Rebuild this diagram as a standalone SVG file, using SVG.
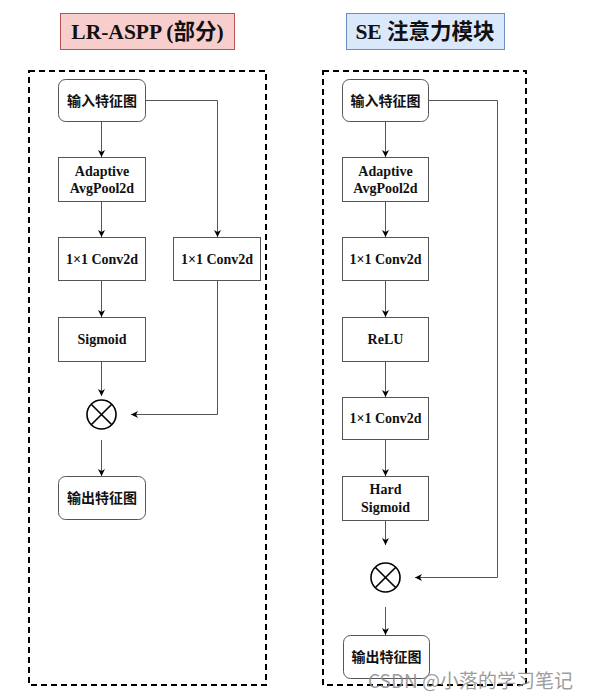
<svg xmlns="http://www.w3.org/2000/svg" width="595" height="699" viewBox="0 0 595 699">
<defs>
<marker id="ah" markerWidth="8" markerHeight="8" refX="7" refY="4" orient="auto" markerUnits="userSpaceOnUse">
<path d="M0,0.5 L7,4 L0,7.5 L2,4 Z" fill="#000"/>
</marker>
</defs>
<style>
.frame{fill:none;stroke:#000;stroke-width:2;stroke-dasharray:6 4}
.box{fill:#fff;stroke:#555;stroke-width:1}
.en{font-family:"Liberation Serif","Times New Roman",serif;font-weight:bold;font-size:14px;fill:#111;text-anchor:middle}
.zh{font-family:"Noto Sans CJK SC","Noto Sans",sans-serif;font-weight:bold;font-size:14px;fill:#111;text-anchor:middle}
.title{font-family:"Liberation Serif","Noto Sans CJK SC",serif;font-weight:bold;font-size:21.5px;fill:#111;text-anchor:middle}
.titlezh{font-family:"Noto Sans CJK SC",sans-serif;font-weight:bold}
.edge{fill:none;stroke:#555;stroke-width:1;marker-end:url(#ah)}
.op{fill:#fff;stroke:#000;stroke-width:1.6}
</style>
<rect width="595" height="699" fill="#fff"/>

<g id="title-left">
<rect x="60.5" y="13.5" width="174" height="36" fill="#f8cecc" stroke="#b85450" stroke-width="1"/>
<text class="title" x="147.5" y="39">LR-ASPP (<tspan class="titlezh">部分</tspan>)</text>
</g>
<g id="title-right">
<rect x="346.5" y="13.5" width="158" height="36" fill="#dae8fc" stroke="#6c8ebf" stroke-width="1"/>
<text class="title" x="425" y="39">SE <tspan class="titlezh">注意力模块</tspan></text>
</g>

<g id="frame-left"><rect class="frame" x="29" y="71" width="237" height="614"/></g>
<g id="frame-right"><rect class="frame" x="323" y="71" width="203" height="614"/></g>

<g id="connectors">
<path class="edge" d="M101.5,121 V157"/>
<path class="edge" d="M101.5,201 V237"/>
<path class="edge" d="M101.5,280 V317"/>
<path class="edge" d="M101.5,361 V396"/>
<path class="edge" d="M101.5,440 V476"/>
<path class="edge" d="M145,100.5 H217.5 V237"/>
<path class="edge" d="M217.5,280 V414.5 H131"/>
<path class="edge" d="M385.5,121 V157"/>
<path class="edge" d="M385.5,201 V237"/>
<path class="edge" d="M385.5,280 V317"/>
<path class="edge" d="M385.5,361 V397"/>
<path class="edge" d="M385.5,439 V476"/>
<path class="edge" d="M385.5,520 V545"/>
<path class="edge" d="M385.5,607 V635"/>
<path class="edge" d="M428,100.5 H497.5 V577.5 H415"/>
</g>

<g id="l-input"><rect class="box" x="58.5" y="79.5" width="87" height="42" rx="7"/><text class="zh" x="102" y="105.5">输入特征图</text></g>
<g id="l-pool"><rect class="box" x="58.5" y="157.5" width="87" height="44"/><text class="en" x="102" y="176">Adaptive</text><text class="en" x="102" y="193">AvgPool2d</text></g>
<g id="l-conv"><rect class="box" x="58.5" y="237.5" width="87" height="43"/><text class="en" x="102" y="264">1×1 Conv2d</text></g>
<g id="l-conv2"><rect class="box" x="173.5" y="237.5" width="87" height="43"/><text class="en" x="217" y="264">1×1 Conv2d</text></g>
<g id="l-sigmoid"><rect class="box" x="58.5" y="317.5" width="87" height="44"/><text class="en" x="102" y="344">Sigmoid</text></g>
<g id="l-mul"><circle class="op" cx="101.5" cy="414.5" r="14.5"/><path class="op" d="M91.2,404.2 L111.8,424.8 M111.8,404.2 L91.2,424.8"/></g>
<g id="l-output"><rect class="box" x="58.5" y="476.5" width="87" height="43" rx="7"/><text class="zh" x="102" y="502.5">输出特征图</text></g>

<g id="r-input"><rect class="box" x="342.5" y="79.5" width="86" height="42" rx="7"/><text class="zh" x="385.5" y="105.5">输入特征图</text></g>
<g id="r-pool"><rect class="box" x="342.5" y="157.5" width="86" height="44"/><text class="en" x="385.5" y="176">Adaptive</text><text class="en" x="385.5" y="193">AvgPool2d</text></g>
<g id="r-conv1"><rect class="box" x="342.5" y="237.5" width="86" height="43"/><text class="en" x="385.5" y="264">1×1 Conv2d</text></g>
<g id="r-relu"><rect class="box" x="342.5" y="317.5" width="86" height="44"/><text class="en" x="385.5" y="344">ReLU</text></g>
<g id="r-conv2"><rect class="box" x="342.5" y="397.5" width="86" height="42"/><text class="en" x="385.5" y="423">1×1 Conv2d</text></g>
<g id="r-hsig"><rect class="box" x="342.5" y="476.5" width="86" height="44"/><text class="en" x="385.5" y="494">Hard</text><text class="en" x="385.5" y="512">Sigmoid</text></g>
<g id="r-mul"><circle class="op" cx="385.5" cy="577.5" r="14.5"/><path class="op" d="M375.2,567.2 L395.8,587.8 M395.8,567.2 L375.2,587.8"/></g>
<g id="r-output"><rect class="box" x="343.5" y="635.5" width="86" height="43" rx="7"/><text class="zh" x="386.5" y="661.5">输出特征图</text></g>

<g id="watermark"><text x="368" y="688" font-family="'Noto Sans CJK SC','Noto Sans',sans-serif" font-size="19" fill="#8a8a8a" fill-opacity="0.85">CSDN @小落的学习笔记</text></g>
</svg>
